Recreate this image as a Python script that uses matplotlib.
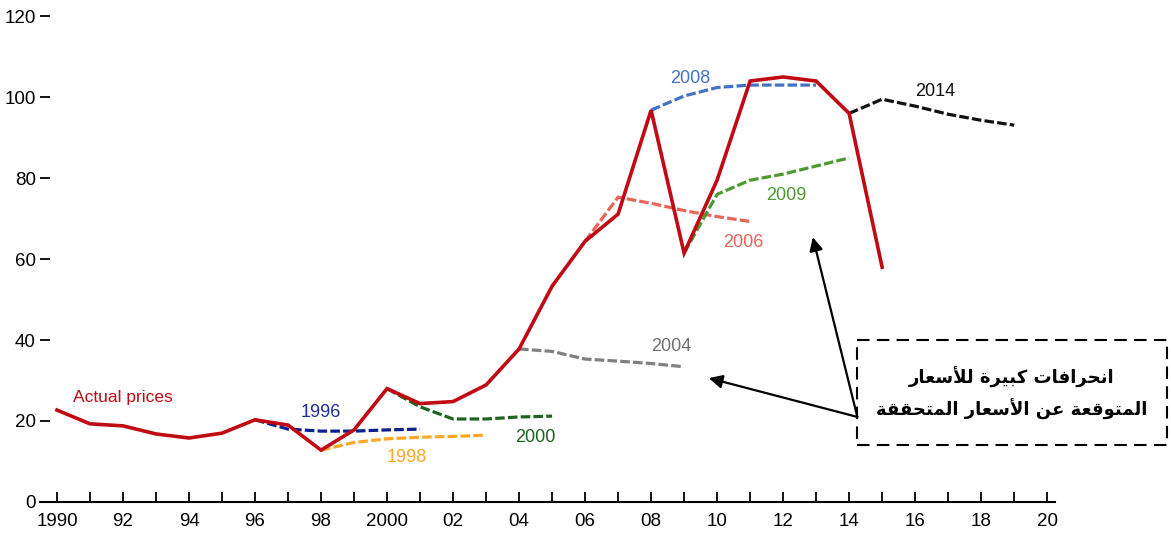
import matplotlib
matplotlib.use("Agg")
import matplotlib.pyplot as plt
from matplotlib.patches import Rectangle

# Actual oil prices
years = list(range(1990, 2016))
actual = [22.7, 19.3, 18.8, 16.8, 15.8, 17.0, 20.3, 19.0, 12.8, 17.8,
          28.0, 24.3, 24.8, 28.9, 37.8, 53.3, 64.4, 71.1, 96.8, 61.5,
          79.5, 104.0, 105.0, 104.0, 96.0, 58.0]

# Forecast vintages (first year of each path)
f1996_x = list(range(1996, 2002))
f1996_y = [20.3, 18.0, 17.5, 17.5, 17.8, 18.0]
f1998_x = list(range(1998, 2004))
f1998_y = [12.8, 14.7, 15.6, 16.0, 16.2, 16.5]
f2000_x = list(range(2000, 2006))
f2000_y = [28.0, 23.5, 20.5, 20.5, 21.0, 21.2]
f2004_x = list(range(2004, 2010))
f2004_y = [37.8, 37.2, 35.3, 34.8, 34.2, 33.4]
f2006_x = list(range(2006, 2012))
f2006_y = [64.4, 75.3, 73.8, 72.0, 70.5, 69.3]
f2008_x = list(range(2008, 2014))
f2008_y = [96.8, 100.3, 102.4, 103.0, 103.0, 103.0]
f2009_x = list(range(2009, 2015))
f2009_y = [61.5, 76.0, 79.5, 81.0, 83.0, 85.0]
f2014_x = list(range(2014, 2020))
f2014_y = [96.0, 99.5, 97.8, 95.8, 94.3, 93.1]

note_lines = ["انحرافات كبيرة للأسعار", "المتوقعة عن الأسعار المتحققة"]

# simple Arabic shaping (matplotlib has no complex text layout)
DUAL = {'ب': 0xFE8F, 'ت': 0xFE95, 'ح': 0xFEA1, 'س': 0xFEB1, 'ع': 0xFEC9,
        'ف': 0xFED1, 'ق': 0xFED5, 'ك': 0xFED9, 'ل': 0xFEDD, 'م': 0xFEE1,
        'ن': 0xFEE5, 'ي': 0xFEF1}
RIGHT = {'ا': 0xFE8D, 'أ': 0xFE83, 'ر': 0xFEAD, 'و': 0xFEED, 'ة': 0xFE93}
LAMALEF = {'ا': 0xFEFB, 'أ': 0xFEF7}


def shape(text):
    out = []
    i = 0
    prev_joins = False
    while i < len(text):
        c = text[i]
        nxt = text[i + 1] if i + 1 < len(text) else ''
        if c == 'ل' and nxt in LAMALEF:
            out.append(chr(LAMALEF[nxt] + (1 if prev_joins else 0)))
            prev_joins = False
            i += 2
            continue
        if c in DUAL:
            next_joins = nxt in DUAL or nxt in RIGHT
            if prev_joins:
                form = 3 if next_joins else 1
            else:
                form = 2 if next_joins else 0
            out.append(chr(DUAL[c] + form))
            prev_joins = next_joins
        elif c in RIGHT:
            out.append(chr(RIGHT[c] + (1 if prev_joins else 0)))
            prev_joins = False
        else:
            out.append(c)
            prev_joins = False
        i += 1
    return ''.join(out)[::-1]


plt.rcParams['font.family'] = ['Liberation Sans', 'DejaVu Sans']

fig = plt.figure(figsize=(11.71, 5.45), dpi=100)
ax = fig.add_axes([0.034, 0.079, 0.867, 0.906])

dash = (0, (3, 1))
lw_f = 2.3
ax.plot(f1996_x, f1996_y, color='#0B1F8F', lw=lw_f, ls=dash)
ax.plot(f1998_x, f1998_y, color='#FFA726', lw=lw_f, ls=dash)
ax.plot(f2000_x, f2000_y, color='#1E6420', lw=lw_f, ls=dash)
ax.plot(f2004_x, f2004_y, color='#808080', lw=lw_f, ls=dash)
ax.plot(f2006_x, f2006_y, color='#E8635A', lw=lw_f, ls=dash)
ax.plot(f2008_x, f2008_y, color='#4472C4', lw=lw_f, ls=dash)
ax.plot(f2009_x, f2009_y, color='#4C9A30', lw=lw_f, ls=dash)
ax.plot(f2014_x, f2014_y, color='#111111', lw=lw_f, ls=dash)
ax.plot(years, actual, color='#C00A14', lw=2.6, solid_joinstyle='miter')

# series labels
lab = dict(fontsize=13, ha='center', va='center')
ax.text(1990.5, 25.7, "Actual prices", color='#C00A14', fontsize=12.5, ha='left', va='center')
ax.text(1998.0, 22.0, "1996", color='#1F2E9A', **lab)
ax.text(2000.6, 11.1, "1998", color='#FFA726', **lab)
ax.text(2004.5, 16.0, "2000", color='#1E6420', **lab)
ax.text(2008.6, 38.3, "2004", color='#707070', **lab)
ax.text(2010.8, 64.0, "2006", color='#E8635A', **lab)
ax.text(2009.2, 104.7, "2008", color='#4472C4', **lab)
ax.text(2012.1, 75.8, "2009", color='#4C9A30', **lab)
ax.text(2016.6, 101.5, "2014", color='#111111', **lab)

# arrows from note box
arrow = dict(arrowstyle='-|>', color='black', lw=1.6, mutation_scale=20, shrinkA=0, shrinkB=0)
ax.annotate("", xy=(2009.75, 30.6), xytext=(2014.25, 21.0), arrowprops=arrow)
ax.annotate("", xy=(2012.9, 65.4), xytext=(2014.25, 21.0), arrowprops=arrow)

ax.set_xlim(1989.48, 2020.24)
ax.set_ylim(0, 122)

ax.set_xticks(range(1990, 2021, 2))
ax.set_xticklabels(["1990", "92", "94", "96", "98", "2000", "02", "04", "06",
                    "08", "10", "12", "14", "16", "18", "20"])
ax.set_xticks(range(1991, 2020, 2), minor=True)
ax.set_yticks(range(0, 121, 20))
ax.tick_params(axis='x', which='both', direction='in', length=7, width=1.3, labelsize=13.5, pad=8)
ax.tick_params(axis='y', direction='in', length=7, width=1.3, labelsize=13.5, pad=3)
ax.yaxis.get_major_ticks()[0].tick1line.set_visible(False)

for s in ['top', 'right', 'left']:
    ax.spines[s].set_visible(False)
ax.spines['bottom'].set_linewidth(1.5)

# note box with dashed border
box = Rectangle((0.732, 0.1835), 0.265, 0.193, transform=fig.transFigure,
                fill=False, ec='black', lw=1.5, ls=(0, (6, 3.5)))
fig.patches.append(box)
fig.text(0.864, 0.308, shape(note_lines[0]), ha='center', va='center',
         fontsize=13, fontweight='bold', family='DejaVu Sans')
fig.text(0.864, 0.248, shape(note_lines[1]), ha='center', va='center',
         fontsize=13, fontweight='bold', family='DejaVu Sans')

fig.savefig("out.png", dpi=100)
